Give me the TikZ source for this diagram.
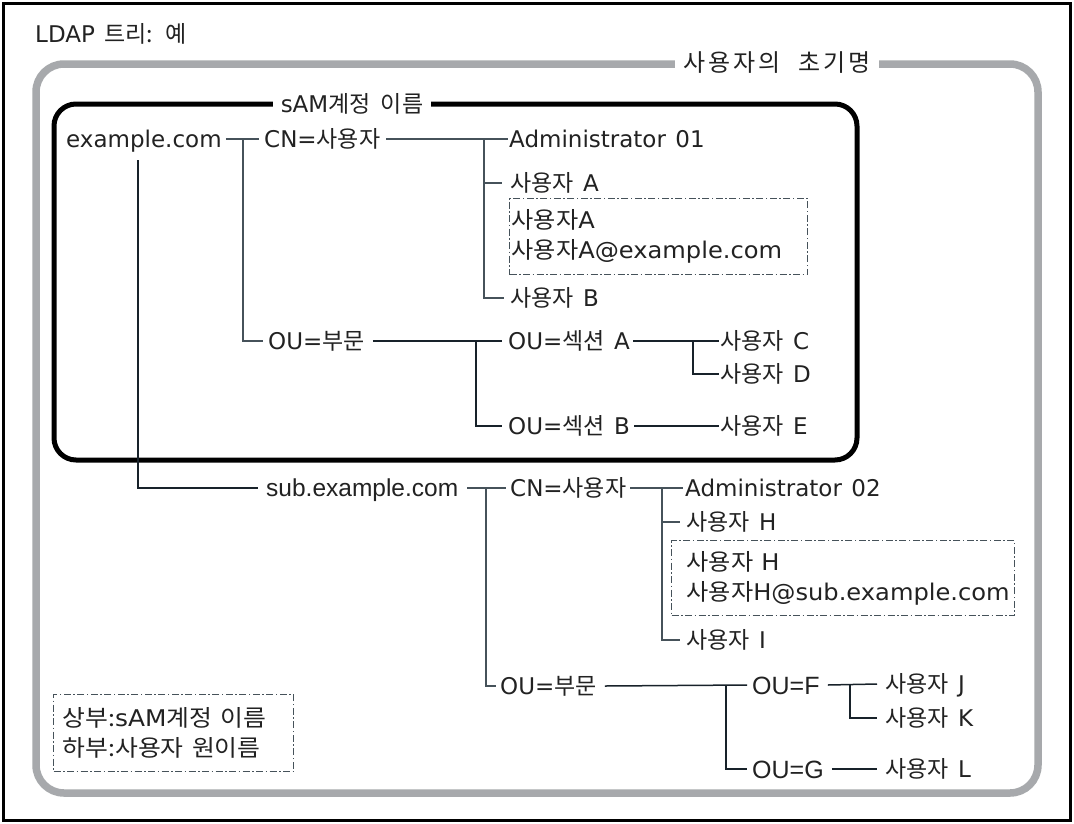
\documentclass[tikz,border=0pt]{standalone}
\usepackage{fontspec}
\setmainfont{DejaVu Sans}[WordSpace=1.3]
\newfontfamily\kofont{Noto Sans CJK KR}[WordSpace=2.0]
\newfontfamily\kotitlefont{Noto Sans CJK KR}[WordSpace=2.2,LetterSpace=12]
\newfontfamily\hvfont{Liberation Sans}
\newcommand\ko[1]{{\kofont #1}}
\usetikzlibrary{calc}
\definecolor{graybox}{HTML}{A7A9AC}
\definecolor{lnA}{HTML}{46525A}
\definecolor{lnB}{HTML}{18222A}
\definecolor{txtc}{HTML}{222222}
\begin{document}
\begin{tikzpicture}[x=1pt,y=-1pt,
 lbl/.style={inner sep=0pt, anchor=west, text height=16.5pt, text depth=0pt, font=\fontsize{23}{28}\selectfont, text=txtc},
 hv/.style={lbl, font=\hvfont\fontsize{24.5}{28}\selectfont, text height=17.5pt},
 hvb/.style={lbl, font=\hvfont\fontsize{25}{28}\selectfont, text height=18pt},
 conn/.style={draw=lnA, line width=1.3pt},
 connd/.style={draw=lnB, line width=1.5pt},
 dbox/.style={draw=lnA, line width=1.2pt, dash pattern=on 7pt off 2.5pt on 1.5pt off 2.5pt, inner sep=0pt, anchor=north west, align=left, font=\fontsize{23}{30}\selectfont, text=txtc},
 ttl/.style={fill=white, inner xsep=8pt, inner ysep=2pt, font=\fontsize{23}{26}\selectfont, text=txtc}
]
\useasboundingbox (0,0) rectangle (1074,823);
\fill[white] (0,0) rectangle (1074,823);
\draw[line width=3pt] (3.5,3) rectangle (1070.5,820);
\draw[graybox, line width=7.5pt, rounded corners=28pt] (36,64) rectangle (1038,793);
\node[ttl, font=\kotitlefont\fontsize{24}{26}\selectfont] (t2) at (777,63) {사용자의 초기명};
\draw[line width=5pt, rounded corners=22pt] (54,104) rectangle (857,460);
\node[ttl] (t1) at (352,104) {sAM\ko{계정 이름}};
\node[lbl] (title) at (35,34) {LDAP \ko{트리: 예}};

\node[lbl] (ex) at (66,139) {example.com};
\node[lbl] (cn1) at (264,139) {CN=\ko{사용자}};
\node[lbl] (adm1) at (509,139) {Administrator 01};
\node[lbl] (ua) at (510,183) {\ko{사용자} A};
\node[dbox, minimum width=298pt, minimum height=76pt, text width=294pt] (box1) at (509,198) {\scalebox{1.05}[1]{\ko{사용자}A}\\\scalebox{1.05}[1]{\ko{사용자}A@example.com}};
\node[lbl] (ub) at (510,298) {\ko{사용자} B};
\node[lbl] (ou1) at (268,341) {OU=\ko{부문}};
\node[lbl] (sa) at (508,341) {OU=\ko{섹션} A};
\node[lbl] (uc) at (720,341) {\ko{사용자} C};
\node[lbl] (ud) at (720,374) {\ko{사용자} D};
\node[lbl] (sb) at (508,426) {OU=\ko{섹션} B};
\node[lbl] (ue) at (720,426) {\ko{사용자} E};
\node[hv] (sub) at (266,488) {sub.example.com};
\node[lbl] (cn2) at (510,488) {CN=\ko{사용자}};
\node[lbl] (adm2) at (685,488) {Administrator 02};
\node[lbl] (uh) at (686,522) {\ko{사용자} H};
\node[dbox, minimum width=343pt, minimum height=75pt, text width=341pt] (box2) at (671,540) {\hspace*{14pt}\scalebox{1.05}[1]{\ko{사용자} H}\\\hspace*{14pt}\scalebox{1.05}[1]{\ko{사용자}H@sub.example.com}};
\node[lbl] (ui) at (686,640) {\ko{사용자} I};
\node[lbl] (ou2) at (500,686) {OU=\ko{부문}};
\node[hvb] (of) at (752,685) {OU=F};
\node[lbl] (uj) at (885,684) {\ko{사용자} J};
\node[lbl] (uk) at (885,718) {\ko{사용자} K};
\node[hvb] (og) at (752,769) {OU=G};
\node[lbl] (ul) at (885,769) {\ko{사용자} L};
\node[dbox, minimum width=240pt, minimum height=77pt, text width=222pt] (leg) at (53,694) {\scalebox{1.08}[1]{\ko{상부:}sAM\ko{계정 이름}}\\\scalebox{1.08}[1]{\ko{하부:사용자 원이름}}};

\coordinate (j0) at (138,160);
\coordinate (j1) at (243,139);
\coordinate (j2) at (484,139);
\coordinate (j3) at (476,341);
\coordinate (j4) at (693,341);
\coordinate (j5) at (486,488);
\coordinate (j6) at (662,488);
\coordinate (j7) at (726,685);
\coordinate (j8) at (850,685);

\draw[conn] ([xshift=4pt]ex.east) -- ([xshift=-5pt]cn1.west);
\draw[conn] (j1) |- ([xshift=-5pt]ou1.west);
\draw[conn] ([xshift=6pt]cn1.east) -- ([xshift=-1pt]adm1.west);
\draw[conn] (j2) |- ([xshift=-6pt]ub.west);
\draw[conn] (j2 |- ua.west) -- ([xshift=-8pt]ua.west);
\draw[connd] ([xshift=8pt]ou1.east) -- ([xshift=-6pt]sa.west);
\draw[connd] (j3) |- ([xshift=-6pt]sb.west);
\draw[connd] ([xshift=3pt]sa.east) -- ([xshift=-1pt]uc.west);
\draw[connd] (j4) |- ([xshift=-1pt]ud.west);
\draw[connd] ([xshift=4pt]sb.east) -- ([xshift=-1pt]ue.west);
\draw[connd] (j0) |- ([xshift=-8pt]sub.west);
\draw[conn] ([xshift=9pt]sub.east) -- ([xshift=-4pt]cn2.west);
\draw[conn] (j5) |- ([xshift=-4pt]ou2.west);
\draw[conn] ([xshift=4pt]cn2.east) -- ([xshift=-2pt]adm2.west);
\draw[conn] (j6) |- ([xshift=-6pt]ui.west);
\draw[conn] (j6 |- uh.west) -- ([xshift=-6pt]uh.west);
\draw[connd] ([xshift=8pt]ou2.east) -- ([xshift=-5pt]of.west);
\draw[connd] (j7) |- ([xshift=-5pt]og.west);
\draw[connd] ([xshift=8pt]of.east) -- ([xshift=-8pt]uj.west);
\draw[connd] (j8) |- ([xshift=-8pt]uk.west);
\draw[connd] ([xshift=8pt]og.east) -- ([xshift=-8pt]ul.west);
\end{tikzpicture}
\end{document}
